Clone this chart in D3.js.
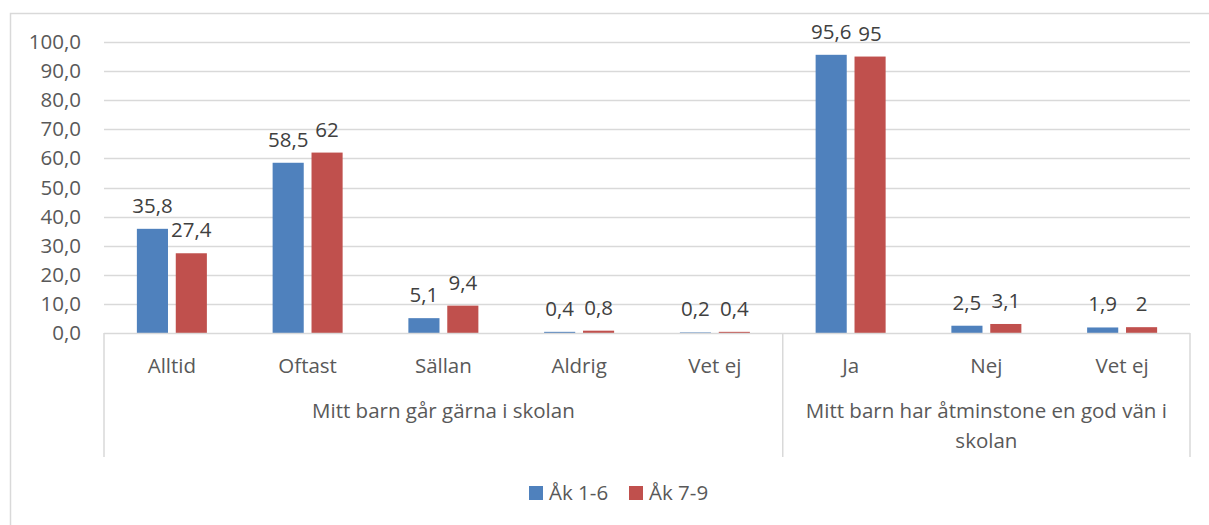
<!DOCTYPE html>
<html>
<head>
<meta charset="utf-8">
<script src="https://cdn.jsdelivr.net/npm/d3@7"></script>
<style>
  body { margin: 0; background: #fff; }
  svg { font-family: "Open Sans", sans-serif; }
</style>
</head>
<body>
<div id="chart"></div>
<script>
// Data
const categories = ["Alltid", "Oftast", "Sällan", "Aldrig", "Vet ej", "Ja", "Nej", "Vet ej "];
const seriesNames = ["Åk 1-6", "Åk 7-9"];
const ak16 = [35.8, 58.5, 5.1, 0.4, 0.2, 95.6, 2.5, 1.9];
const ak79 = [27.4, 62, 9.4, 0.8, 0.4, 95, 3.1, 2];
const groupLabels = [
  { lines: ["Mitt barn går gärna i skolan"], from: 0, to: 4 },
  { lines: ["Mitt barn har åtminstone en god vän i", "skolan"], from: 5, to: 7 }
];
const yTicks = [0, 10, 20, 30, 40, 50, 60, 70, 80, 90, 100];
const colors = ["#4F81BD", "#C0504D"];

const fmt = v => String(v).replace(".", ",");
const FS = 20.5;

const W = 1209, H = 525;
const plot = { left: 104, right: 1190, top: 42, bottom: 333 };

const svg = d3.select("#chart").append("svg")
  .attr("width", W).attr("height", H);

// outer chart border
svg.append("rect")
  .attr("x", 10.5).attr("y", 13.5)
  .attr("width", W + 10).attr("height", H + 10)
  .attr("fill", "none").attr("stroke", "#d9d9d9").attr("stroke-width", 1.5);

const x0 = d3.scaleBand().domain(categories).range([plot.left, plot.right]).paddingInner(0).paddingOuter(0);
const bw = x0.bandwidth();
const x1 = d3.scaleBand().domain(seriesNames).range([bw / 2 - 35, bw / 2 + 35]).paddingInner(0.2);
const y = d3.scaleLinear().domain([0, 100]).range([plot.bottom, plot.top]);

// gridlines
svg.append("g").selectAll("line")
  .data(yTicks.filter(d => d > 0))
  .join("line")
  .attr("x1", plot.left).attr("x2", plot.right)
  .attr("y1", d => Math.round(y(d)) + 0.5).attr("y2", d => Math.round(y(d)) + 0.5)
  .attr("stroke", "#d9d9d9").attr("stroke-width", 1.5);

// y axis labels
const yAxis = d3.axisLeft(y).tickValues(yTicks).tickFormat(d => d3.format(".1f")(d).replace(".", ","))
  .tickSize(0).tickPadding(0);
const yg = svg.append("g").attr("transform", `translate(81,0)`).call(yAxis);
yg.select(".domain").remove();
yg.selectAll("text").attr("font-size", FS).attr("fill", "#595959")
  .attr("font-family", "Open Sans, sans-serif");

// bars
const rows = categories.map((c, i) => ({ cat: c, vals: [ak16[i], ak79[i]] }));
const grp = svg.append("g").selectAll("g")
  .data(rows).join("g")
  .attr("transform", d => `translate(${x0(d.cat)},0)`);

grp.selectAll("rect")
  .data(d => d.vals.map((v, k) => ({ s: seriesNames[k], v, k })))
  .join("rect")
  .attr("x", d => x1(d.s))
  .attr("y", d => y(d.v))
  .attr("width", x1.bandwidth())
  .attr("height", d => y(0) - y(d.v))
  .attr("fill", d => colors[d.k]);

grp.selectAll("text")
  .data(d => d.vals.map((v, k) => ({ s: seriesNames[k], v, k })))
  .join("text")
  .attr("x", d => x1(d.s) + x1.bandwidth() / 2)
  .attr("y", d => y(d.v) - 16)
  .attr("text-anchor", "middle")
  .attr("font-size", FS)
  .attr("fill", "#404040")
  .text(d => fmt(d.v));

// x axis line
svg.append("line")
  .attr("x1", plot.left).attr("x2", plot.right)
  .attr("y1", plot.bottom + 0.5).attr("y2", plot.bottom + 0.5)
  .attr("stroke", "#d9d9d9").attr("stroke-width", 1.5);

// category labels
svg.append("g").selectAll("text")
  .data(categories).join("text")
  .attr("x", d => x0(d) + bw / 2)
  .attr("y", 373)
  .attr("text-anchor", "middle")
  .attr("font-size", FS)
  .attr("fill", "#595959")
  .text(d => d.trim());

// group separators
const sepX = [plot.left, x0(categories[5]), plot.right];
svg.append("g").selectAll("line")
  .data(sepX).join("line")
  .attr("x1", d => d).attr("x2", d => d)
  .attr("y1", plot.bottom).attr("y2", 457)
  .attr("stroke", "#d9d9d9").attr("stroke-width", 1.5);

// group labels
svg.append("g").selectAll("text")
  .data(groupLabels).join("text")
  .attr("x", d => (x0(categories[d.from]) + x0(categories[d.to]) + bw) / 2)
  .attr("y", 418)
  .attr("text-anchor", "middle")
  .attr("font-size", FS)
  .attr("fill", "#595959")
  .selectAll("tspan")
  .data(d => d.lines)
  .join("tspan")
  .attr("x", function () { return d3.select(this.parentNode).attr("x"); })
  .attr("dy", (d, i) => i === 0 ? 0 : 30)
  .text(d => d);

// legend
const legendX = [529, 629];
const lg = svg.append("g").selectAll("g")
  .data(seriesNames).join("g")
  .attr("transform", (d, i) => `translate(${legendX[i]},486)`);
lg.append("rect").attr("width", 14).attr("height", 14).attr("fill", (d, i) => colors[i]);
lg.append("text").attr("x", 20).attr("y", 14)
  .attr("font-size", FS).attr("fill", "#595959").text(d => d);
</script>
</body>
</html>
